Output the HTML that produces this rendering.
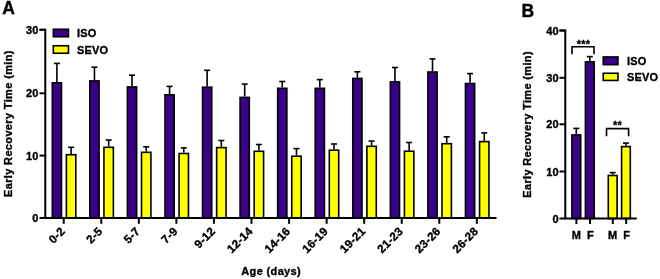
<!DOCTYPE html>
<html><head><meta charset="utf-8"><style>
html,body{margin:0;padding:0;background:#fff;}
svg{display:block;will-change:transform;}
.t{font-family:"Liberation Sans",sans-serif;font-weight:bold;font-size:11px;fill:#000;letter-spacing:0.2px;stroke:#000;stroke-width:0.35px;}
.h{font-family:"Liberation Sans",sans-serif;font-weight:bold;font-size:17.5px;fill:#000;stroke:#000;stroke-width:0.4px;}
</style></head><body>
<svg width="660" height="279" viewBox="0 0 660 279">
<rect x="52.30" y="82.80" width="9.20" height="135.20" fill="#3a0088" stroke="#000" stroke-width="1.6"/><line x1="56.90" y1="82.00" x2="56.90" y2="63.40" stroke="#000" stroke-width="1.6"/><line x1="53.90" y1="63.40" x2="59.90" y2="63.40" stroke="#000" stroke-width="1.6"/>
<rect x="66.40" y="154.70" width="9.40" height="63.30" fill="#ffff00" stroke="#000" stroke-width="1.6"/><line x1="71.10" y1="153.90" x2="71.10" y2="147.30" stroke="#000" stroke-width="1.6"/><line x1="68.10" y1="147.30" x2="74.10" y2="147.30" stroke="#000" stroke-width="1.6"/>
<line x1="63.70" y1="218" x2="63.70" y2="223.8" stroke="#000" stroke-width="2.0"/>
<text x="65.70" y="232" text-anchor="end" transform="rotate(-45 65.70 232)" class="t" style="font-size:11.6px">0-2</text>
<rect x="89.86" y="80.90" width="9.20" height="137.10" fill="#3a0088" stroke="#000" stroke-width="1.6"/><line x1="94.46" y1="80.10" x2="94.46" y2="67.20" stroke="#000" stroke-width="1.6"/><line x1="91.46" y1="67.20" x2="97.46" y2="67.20" stroke="#000" stroke-width="1.6"/>
<rect x="103.96" y="147.30" width="9.40" height="70.70" fill="#ffff00" stroke="#000" stroke-width="1.6"/><line x1="108.66" y1="146.50" x2="108.66" y2="140.00" stroke="#000" stroke-width="1.6"/><line x1="105.66" y1="140.00" x2="111.66" y2="140.00" stroke="#000" stroke-width="1.6"/>
<line x1="101.26" y1="218" x2="101.26" y2="223.8" stroke="#000" stroke-width="2.0"/>
<text x="103.26" y="232" text-anchor="end" transform="rotate(-45 103.26 232)" class="t" style="font-size:11.6px">2-5</text>
<rect x="127.42" y="86.90" width="9.20" height="131.10" fill="#3a0088" stroke="#000" stroke-width="1.6"/><line x1="132.02" y1="86.10" x2="132.02" y2="75.20" stroke="#000" stroke-width="1.6"/><line x1="129.02" y1="75.20" x2="135.02" y2="75.20" stroke="#000" stroke-width="1.6"/>
<rect x="141.52" y="152.30" width="9.40" height="65.70" fill="#ffff00" stroke="#000" stroke-width="1.6"/><line x1="146.22" y1="151.50" x2="146.22" y2="146.80" stroke="#000" stroke-width="1.6"/><line x1="143.22" y1="146.80" x2="149.22" y2="146.80" stroke="#000" stroke-width="1.6"/>
<line x1="138.82" y1="218" x2="138.82" y2="223.8" stroke="#000" stroke-width="2.0"/>
<text x="140.82" y="232" text-anchor="end" transform="rotate(-45 140.82 232)" class="t" style="font-size:11.6px">5-7</text>
<rect x="164.98" y="94.80" width="9.20" height="123.20" fill="#3a0088" stroke="#000" stroke-width="1.6"/><line x1="169.58" y1="94.00" x2="169.58" y2="86.40" stroke="#000" stroke-width="1.6"/><line x1="166.58" y1="86.40" x2="172.58" y2="86.40" stroke="#000" stroke-width="1.6"/>
<rect x="179.08" y="153.50" width="9.40" height="64.50" fill="#ffff00" stroke="#000" stroke-width="1.6"/><line x1="183.78" y1="152.70" x2="183.78" y2="147.90" stroke="#000" stroke-width="1.6"/><line x1="180.78" y1="147.90" x2="186.78" y2="147.90" stroke="#000" stroke-width="1.6"/>
<line x1="176.38" y1="218" x2="176.38" y2="223.8" stroke="#000" stroke-width="2.0"/>
<text x="178.38" y="232" text-anchor="end" transform="rotate(-45 178.38 232)" class="t" style="font-size:11.6px">7-9</text>
<rect x="202.54" y="87.20" width="9.20" height="130.80" fill="#3a0088" stroke="#000" stroke-width="1.6"/><line x1="207.14" y1="86.40" x2="207.14" y2="70.30" stroke="#000" stroke-width="1.6"/><line x1="204.14" y1="70.30" x2="210.14" y2="70.30" stroke="#000" stroke-width="1.6"/>
<rect x="216.64" y="147.60" width="9.40" height="70.40" fill="#ffff00" stroke="#000" stroke-width="1.6"/><line x1="221.34" y1="146.80" x2="221.34" y2="140.50" stroke="#000" stroke-width="1.6"/><line x1="218.34" y1="140.50" x2="224.34" y2="140.50" stroke="#000" stroke-width="1.6"/>
<line x1="213.94" y1="218" x2="213.94" y2="223.8" stroke="#000" stroke-width="2.0"/>
<text x="215.94" y="232" text-anchor="end" transform="rotate(-45 215.94 232)" class="t" style="font-size:11.6px">9-12</text>
<rect x="240.10" y="97.40" width="9.20" height="120.60" fill="#3a0088" stroke="#000" stroke-width="1.6"/><line x1="244.70" y1="96.60" x2="244.70" y2="84.10" stroke="#000" stroke-width="1.6"/><line x1="241.70" y1="84.10" x2="247.70" y2="84.10" stroke="#000" stroke-width="1.6"/>
<rect x="254.20" y="151.30" width="9.40" height="66.70" fill="#ffff00" stroke="#000" stroke-width="1.6"/><line x1="258.90" y1="150.50" x2="258.90" y2="144.50" stroke="#000" stroke-width="1.6"/><line x1="255.90" y1="144.50" x2="261.90" y2="144.50" stroke="#000" stroke-width="1.6"/>
<line x1="251.50" y1="218" x2="251.50" y2="223.8" stroke="#000" stroke-width="2.0"/>
<text x="253.50" y="232" text-anchor="end" transform="rotate(-45 253.50 232)" class="t" style="font-size:11.6px">12-14</text>
<rect x="277.66" y="88.30" width="9.20" height="129.70" fill="#3a0088" stroke="#000" stroke-width="1.6"/><line x1="282.26" y1="87.50" x2="282.26" y2="81.50" stroke="#000" stroke-width="1.6"/><line x1="279.26" y1="81.50" x2="285.26" y2="81.50" stroke="#000" stroke-width="1.6"/>
<rect x="291.76" y="156.20" width="9.40" height="61.80" fill="#ffff00" stroke="#000" stroke-width="1.6"/><line x1="296.46" y1="155.40" x2="296.46" y2="148.60" stroke="#000" stroke-width="1.6"/><line x1="293.46" y1="148.60" x2="299.46" y2="148.60" stroke="#000" stroke-width="1.6"/>
<line x1="289.06" y1="218" x2="289.06" y2="223.8" stroke="#000" stroke-width="2.0"/>
<text x="291.06" y="232" text-anchor="end" transform="rotate(-45 291.06 232)" class="t" style="font-size:11.6px">14-16</text>
<rect x="315.22" y="88.30" width="9.20" height="129.70" fill="#3a0088" stroke="#000" stroke-width="1.6"/><line x1="319.82" y1="87.50" x2="319.82" y2="79.60" stroke="#000" stroke-width="1.6"/><line x1="316.82" y1="79.60" x2="322.82" y2="79.60" stroke="#000" stroke-width="1.6"/>
<rect x="329.32" y="150.20" width="9.40" height="67.80" fill="#ffff00" stroke="#000" stroke-width="1.6"/><line x1="334.02" y1="149.40" x2="334.02" y2="144.00" stroke="#000" stroke-width="1.6"/><line x1="331.02" y1="144.00" x2="337.02" y2="144.00" stroke="#000" stroke-width="1.6"/>
<line x1="326.62" y1="218" x2="326.62" y2="223.8" stroke="#000" stroke-width="2.0"/>
<text x="328.62" y="232" text-anchor="end" transform="rotate(-45 328.62 232)" class="t" style="font-size:11.6px">16-19</text>
<rect x="352.78" y="78.40" width="9.20" height="139.60" fill="#3a0088" stroke="#000" stroke-width="1.6"/><line x1="357.38" y1="77.60" x2="357.38" y2="71.80" stroke="#000" stroke-width="1.6"/><line x1="354.38" y1="71.80" x2="360.38" y2="71.80" stroke="#000" stroke-width="1.6"/>
<rect x="366.88" y="146.30" width="9.40" height="71.70" fill="#ffff00" stroke="#000" stroke-width="1.6"/><line x1="371.58" y1="145.50" x2="371.58" y2="141.10" stroke="#000" stroke-width="1.6"/><line x1="368.58" y1="141.10" x2="374.58" y2="141.10" stroke="#000" stroke-width="1.6"/>
<line x1="364.18" y1="218" x2="364.18" y2="223.8" stroke="#000" stroke-width="2.0"/>
<text x="366.18" y="232" text-anchor="end" transform="rotate(-45 366.18 232)" class="t" style="font-size:11.6px">19-21</text>
<rect x="390.34" y="81.90" width="9.20" height="136.10" fill="#3a0088" stroke="#000" stroke-width="1.6"/><line x1="394.94" y1="81.10" x2="394.94" y2="67.50" stroke="#000" stroke-width="1.6"/><line x1="391.94" y1="67.50" x2="397.94" y2="67.50" stroke="#000" stroke-width="1.6"/>
<rect x="404.44" y="151.20" width="9.40" height="66.80" fill="#ffff00" stroke="#000" stroke-width="1.6"/><line x1="409.14" y1="150.40" x2="409.14" y2="142.50" stroke="#000" stroke-width="1.6"/><line x1="406.14" y1="142.50" x2="412.14" y2="142.50" stroke="#000" stroke-width="1.6"/>
<line x1="401.74" y1="218" x2="401.74" y2="223.8" stroke="#000" stroke-width="2.0"/>
<text x="403.74" y="232" text-anchor="end" transform="rotate(-45 403.74 232)" class="t" style="font-size:11.6px">21-23</text>
<rect x="427.90" y="72.00" width="9.20" height="146.00" fill="#3a0088" stroke="#000" stroke-width="1.6"/><line x1="432.50" y1="71.20" x2="432.50" y2="58.90" stroke="#000" stroke-width="1.6"/><line x1="429.50" y1="58.90" x2="435.50" y2="58.90" stroke="#000" stroke-width="1.6"/>
<rect x="442.00" y="143.70" width="9.40" height="74.30" fill="#ffff00" stroke="#000" stroke-width="1.6"/><line x1="446.70" y1="142.90" x2="446.70" y2="136.80" stroke="#000" stroke-width="1.6"/><line x1="443.70" y1="136.80" x2="449.70" y2="136.80" stroke="#000" stroke-width="1.6"/>
<line x1="439.30" y1="218" x2="439.30" y2="223.8" stroke="#000" stroke-width="2.0"/>
<text x="441.30" y="232" text-anchor="end" transform="rotate(-45 441.30 232)" class="t" style="font-size:11.6px">23-26</text>
<rect x="465.46" y="83.50" width="9.20" height="134.50" fill="#3a0088" stroke="#000" stroke-width="1.6"/><line x1="470.06" y1="82.70" x2="470.06" y2="73.60" stroke="#000" stroke-width="1.6"/><line x1="467.06" y1="73.60" x2="473.06" y2="73.60" stroke="#000" stroke-width="1.6"/>
<rect x="479.56" y="141.60" width="9.40" height="76.40" fill="#ffff00" stroke="#000" stroke-width="1.6"/><line x1="484.26" y1="140.80" x2="484.26" y2="132.90" stroke="#000" stroke-width="1.6"/><line x1="481.26" y1="132.90" x2="487.26" y2="132.90" stroke="#000" stroke-width="1.6"/>
<line x1="476.86" y1="218" x2="476.86" y2="223.8" stroke="#000" stroke-width="2.0"/>
<text x="478.86" y="232" text-anchor="end" transform="rotate(-45 478.86 232)" class="t" style="font-size:11.6px">26-28</text>
<path d="M39.5 29.8 H45.3 V218 H496.5" fill="none" stroke="#000" stroke-width="2.0"/>
<line x1="39.5" y1="29.8" x2="45.3" y2="29.8" stroke="#000" stroke-width="2.0"/>
<text x="38.6" y="33.8" text-anchor="end" class="t">30</text>
<line x1="39.5" y1="93.3" x2="45.3" y2="93.3" stroke="#000" stroke-width="2.0"/>
<text x="38.6" y="97.3" text-anchor="end" class="t">20</text>
<line x1="39.5" y1="155.6" x2="45.3" y2="155.6" stroke="#000" stroke-width="2.0"/>
<text x="38.6" y="159.6" text-anchor="end" class="t">10</text>
<line x1="39.5" y1="218" x2="45.3" y2="218" stroke="#000" stroke-width="2.0"/>
<text x="38.6" y="222.0" text-anchor="end" class="t">0</text>
<rect x="53.35" y="29.25" width="15.1" height="7.5" fill="#3a0088" stroke="#000" stroke-width="1.6"/>
<rect x="53.35" y="45.75" width="15.1" height="7.5" fill="#ffff00" stroke="#000" stroke-width="1.6"/>
<text x="77" y="37" class="t">ISO</text>
<text x="77" y="53.5" class="t">SEVO</text>
<text x="2.3" y="14" class="h">A</text>
<text x="12.5" y="123.6" text-anchor="middle" transform="rotate(-90 12.5 123.6)" class="t" style="letter-spacing:0.35px">Early Recovery Time (min)</text>
<text x="271.2" y="275.2" text-anchor="middle" class="t" style="letter-spacing:0.35px">Age (days)</text>
<rect x="571.90" y="134.90" width="8.80" height="83.60" fill="#3a0088" stroke="#000" stroke-width="1.6"/><line x1="576.30" y1="134.10" x2="576.30" y2="128.40" stroke="#000" stroke-width="1.6"/><line x1="573.30" y1="128.40" x2="579.30" y2="128.40" stroke="#000" stroke-width="1.6"/>
<rect x="585.40" y="61.90" width="8.80" height="156.60" fill="#3a0088" stroke="#000" stroke-width="1.6"/><line x1="589.80" y1="61.10" x2="589.80" y2="56.60" stroke="#000" stroke-width="1.6"/><line x1="586.80" y1="56.60" x2="592.80" y2="56.60" stroke="#000" stroke-width="1.6"/>
<rect x="608.30" y="175.50" width="8.80" height="43.00" fill="#ffff00" stroke="#000" stroke-width="1.6"/><line x1="612.70" y1="174.70" x2="612.70" y2="172.60" stroke="#000" stroke-width="1.6"/><line x1="609.70" y1="172.60" x2="615.70" y2="172.60" stroke="#000" stroke-width="1.6"/>
<rect x="621.60" y="146.60" width="8.70" height="71.90" fill="#ffff00" stroke="#000" stroke-width="1.6"/><line x1="625.95" y1="145.80" x2="625.95" y2="143.10" stroke="#000" stroke-width="1.6"/><line x1="622.95" y1="143.10" x2="628.95" y2="143.10" stroke="#000" stroke-width="1.6"/>
<line x1="576.4" y1="218.5" x2="576.4" y2="224" stroke="#000" stroke-width="2.0"/>
<line x1="590.0" y1="218.5" x2="590.0" y2="224" stroke="#000" stroke-width="2.0"/>
<line x1="612.8" y1="218.5" x2="612.8" y2="224" stroke="#000" stroke-width="2.0"/>
<line x1="626.2" y1="218.5" x2="626.2" y2="224" stroke="#000" stroke-width="2.0"/>
<text x="576.4" y="238.6" text-anchor="middle" class="t">M</text>
<text x="590.4" y="238.6" text-anchor="middle" class="t">F</text>
<text x="612.8" y="238.6" text-anchor="middle" class="t">M</text>
<text x="626.6" y="238.6" text-anchor="middle" class="t">F</text>
<path d="M559.5 30.5 H565.3 V218.5 H636.8" fill="none" stroke="#000" stroke-width="2.0"/>
<line x1="559.5" y1="30.5" x2="565.3" y2="30.5" stroke="#000" stroke-width="2.0"/>
<text x="558.8" y="34.5" text-anchor="end" class="t">40</text>
<line x1="559.5" y1="77.8" x2="565.3" y2="77.8" stroke="#000" stroke-width="2.0"/>
<text x="558.8" y="81.8" text-anchor="end" class="t">30</text>
<line x1="559.5" y1="124.3" x2="565.3" y2="124.3" stroke="#000" stroke-width="2.0"/>
<text x="558.8" y="128.3" text-anchor="end" class="t">20</text>
<line x1="559.5" y1="171.5" x2="565.3" y2="171.5" stroke="#000" stroke-width="2.0"/>
<text x="558.8" y="175.5" text-anchor="end" class="t">10</text>
<line x1="559.5" y1="218.5" x2="565.3" y2="218.5" stroke="#000" stroke-width="2.0"/>
<text x="558.8" y="222.5" text-anchor="end" class="t">0</text>
<path d="M572 54.3 V46.8 H594 V54.3" fill="none" stroke="#000" stroke-width="1.6"/>
<text x="583.4" y="47.5" text-anchor="middle" class="t">***</text>
<path d="M606.5 136.3 V128.6 H628.6 V136.3" fill="none" stroke="#000" stroke-width="1.6"/>
<text x="617.6" y="128.8" text-anchor="middle" class="t">**</text>
<rect x="603.25" y="56.95" width="14.7" height="7.7" fill="#3a0088" stroke="#000" stroke-width="1.6"/>
<rect x="603.25" y="73.25" width="14.7" height="7.2" fill="#ffff00" stroke="#000" stroke-width="1.6"/>
<text x="627" y="64.8" class="t">ISO</text>
<text x="627" y="81" class="t">SEVO</text>
<text x="521.5" y="16.8" class="h">B</text>
<text x="531.3" y="124.4" text-anchor="middle" transform="rotate(-90 531.3 124.4)" class="t" style="letter-spacing:0.35px">Early Recovery Time (min)</text>
</svg>
</body></html>
